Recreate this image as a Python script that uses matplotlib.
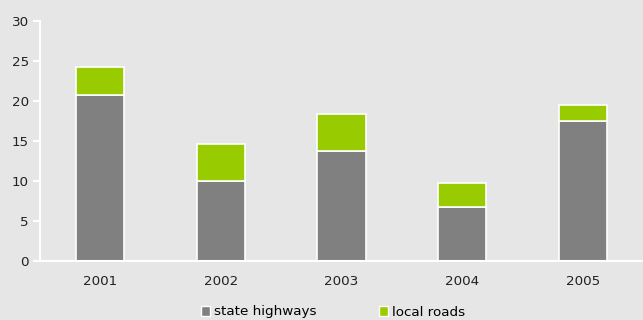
import numpy as np
import matplotlib.pyplot as plt
from matplotlib.patches import Patch

years = ['2001', '2002', '2003', '2004', '2005']
state_highways = [20.8, 10.0, 13.75, 6.75, 17.5]
local_roads = [3.4, 4.6, 4.6, 3.0, 2.0]

bg = '#e6e6e6'
gray = '#808080'
green = '#99cc00'

fig = plt.figure(figsize=(6.43, 3.2), dpi=100, facecolor=bg)
ax = fig.add_axes([40 / 643, 1 - 261 / 320, 603 / 643, 240 / 320], facecolor=bg)

x = np.arange(len(years))
ax.bar(x, state_highways, width=0.4, color=gray, edgecolor='white', linewidth=1.2)
ax.bar(x, local_roads, bottom=state_highways, width=0.4, color=green,
       edgecolor='white', linewidth=1.2)

ax.set_xlim(-0.5, 4.5)
ax.set_ylim(0, 30)
ax.set_yticks(range(0, 31, 5))
ax.set_xticks(x)
ax.set_xticklabels(years)

for side in ['top', 'right']:
    ax.spines[side].set_visible(False)
for side in ['left', 'bottom']:
    ax.spines[side].set_color('white')
    ax.spines[side].set_linewidth(1.5)
ax.tick_params(axis='y', colors='white', length=5, width=1.5, labelcolor='#222222',
               labelsize=9.7, pad=3)
ax.tick_params(axis='x', length=0, labelcolor='#222222', labelsize=9.7, pad=10)

handles = [Patch(facecolor=gray, edgecolor='white', label='state highways'),
           Patch(facecolor=green, edgecolor='white', label='local roads')]
fig.legend(handles=handles, loc='center', bbox_to_anchor=(0.518, 0.025), ncol=2,
           frameon=False, fontsize=9.7, handlelength=0.7, handleheight=0.7,
           handletextpad=0.3, columnspacing=4.6)

fig.savefig('out.png', dpi=100, facecolor=bg)
